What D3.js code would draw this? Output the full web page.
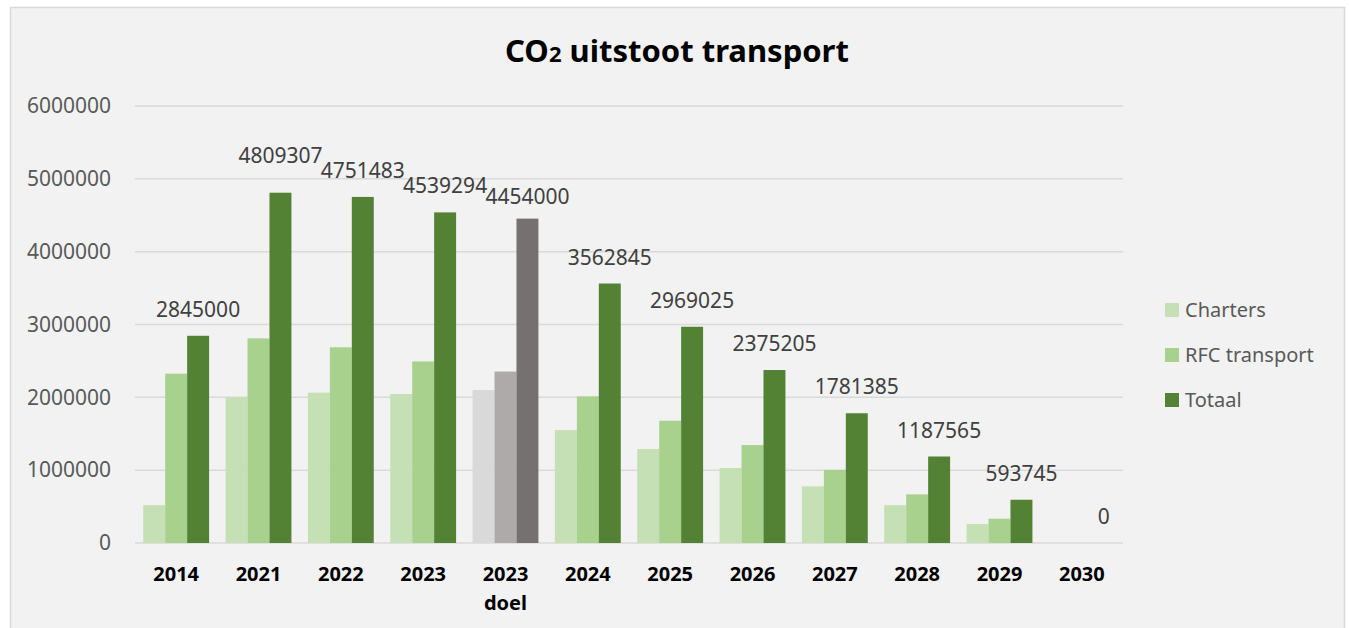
<!DOCTYPE html>
<html>
<head>
<meta charset="utf-8">
<script src="https://cdn.jsdelivr.net/npm/d3@7"></script>
<style>
  body { margin: 0; background: #ffffff; }
  svg { display: block; font-family: "Noto Sans", sans-serif; }
</style>
</head>
<body>
<div id="container"></div>
<script>
// data
const categories = ['2014', '2021', '2022', '2023', '2023 doel', '2024', '2025', '2026', '2027', '2028', '2029', '2030'];
const seriesNames = ['Charters', 'RFC transport', 'Totaal'];
const charters = [520000, 2000000, 2064000, 2046000, 2100000, 1550000, 1290000, 1030000, 778000, 520000, 260000, 0];
const rfcTransport = [2325000, 2809307, 2687483, 2493294, 2354000, 2012845, 1679025, 1345205, 1003385, 667565, 333745, 0];
const totaal = [2845000, 4809307, 4751483, 4539294, 4454000, 3562845, 2969025, 2375205, 1781385, 1187565, 593745, 0];
const yTicks = [0, 1000000, 2000000, 3000000, 4000000, 5000000, 6000000];

const greenColors = ['#c5e0b4', '#a9d18e', '#548235'];
const greyColors = ['#d9d9d9', '#aeaaaa', '#757171'];
const goalCategory = '2023 doel';
// labels that were dragged a bit in the original
const labelShift = { '2021': -11, '2023 doel': 4 };

const W = 1349, H = 628;
const margin = { top: 106, right: 226, bottom: 85, left: 135 };
const width = W - margin.left - margin.right;
const height = H - margin.top - margin.bottom;

const svg = d3.select('#container')
  .append('svg')
  .attr('width', W)
  .attr('height', H);

// chart area
svg.append('rect')
  .attr('x', 10.5).attr('y', 7.5)
  .attr('width', 1334).attr('height', 640)
  .attr('fill', '#f2f2f2')
  .attr('stroke', '#d9d9d9')
  .attr('stroke-width', 1.5);

// title
const title = svg.append('text')
  .attr('x', 677).attr('y', 62)
  .attr('text-anchor', 'middle')
  .attr('font-size', 31)
  .attr('font-weight', 'bold')
  .attr('fill', '#000');
title.append('tspan').text('CO');
title.append('tspan').attr('font-size', 22).text('2');
title.append('tspan').text(' uitstoot transport');

const g = svg.append('g')
  .attr('transform', `translate(${margin.left},${margin.top})`);

// scales
const x0 = d3.scaleBand()
  .domain(categories)
  .range([0, width])
  .paddingInner(0.2)
  .paddingOuter(0.1);

const x1 = d3.scaleBand()
  .domain(seriesNames)
  .range([0, x0.bandwidth()]);

const y = d3.scaleLinear()
  .domain([0, 6000000])
  .range([height, 0]);

// gridlines
g.append('g')
  .selectAll('line')
  .data(yTicks)
  .join('line')
  .attr('x1', 0).attr('x2', width)
  .attr('y1', d => y(d)).attr('y2', d => y(d))
  .attr('stroke', '#d9d9d9')
  .attr('stroke-width', 1.5);

// y axis labels
const yAxis = d3.axisLeft(y)
  .tickValues(yTicks)
  .tickSize(0)
  .tickPadding(24)
  .tickFormat(d3.format('d'));
g.append('g')
  .call(yAxis)
  .call(a => a.select('.domain').remove())
  .selectAll('text')
  .attr('font-size', 21)
  .attr('font-family', '"Noto Sans", sans-serif')
  .attr('fill', '#595959');

// bars
const rows = categories.map((c, i) => ({
  cat: c,
  vals: [charters[i], rfcTransport[i], totaal[i]]
}));

const groups = g.append('g')
  .selectAll('g')
  .data(rows)
  .join('g')
  .attr('transform', d => `translate(${x0(d.cat)},0)`);

groups.selectAll('rect')
  .data(d => d.vals.map((v, j) => ({ cat: d.cat, name: seriesNames[j], j, v })))
  .join('rect')
  .attr('x', d => x1(d.name))
  .attr('width', x1.bandwidth())
  .attr('y', d => y(d.v))
  .attr('height', d => height - y(d.v))
  .attr('fill', d => d.cat === goalCategory ? greyColors[d.j] : greenColors[d.j]);

// value labels on totaal
groups.append('text')
  .attr('x', x1('Totaal') + x1.bandwidth() / 2)
  .attr('y', d => y(d.vals[2]) - 19 + (labelShift[d.cat] || 0))
  .attr('text-anchor', 'middle')
  .attr('font-size', 21)
  .attr('fill', '#404040')
  .text(d => d.vals[2]);

// x axis labels
const xAxis = d3.axisBottom(x0).tickSize(0).tickPadding(0);
const xa = g.append('g')
  .attr('transform', `translate(0,${height})`)
  .call(xAxis);
xa.select('.domain').remove();
xa.selectAll('.tick text').remove();
xa.selectAll('.tick').each(function (d) {
  const parts = d.split(' ');
  const t = d3.select(this).append('text')
    .attr('text-anchor', 'middle')
    .attr('font-size', 20)
    .attr('font-weight', 'bold')
    .attr('font-family', '"Noto Sans", sans-serif')
    .attr('fill', '#000');
  parts.forEach((p, k) => {
    t.append('tspan').attr('x', 0).attr('y', 38 + k * 29).text(p);
  });
});

// legend
const legend = svg.append('g')
  .attr('transform', 'translate(1165,310)');
const li = legend.selectAll('g')
  .data(seriesNames)
  .join('g')
  .attr('transform', (d, i) => `translate(0,${i * 45})`);
li.append('rect')
  .attr('x', 0).attr('y', -7)
  .attr('width', 14).attr('height', 14)
  .attr('fill', (d, i) => greenColors[i]);
li.append('text')
  .attr('x', 20).attr('y', 7)
  .attr('font-size', 20)
  .attr('fill', '#595959')
  .text(d => d);
</script>
</body>
</html>
